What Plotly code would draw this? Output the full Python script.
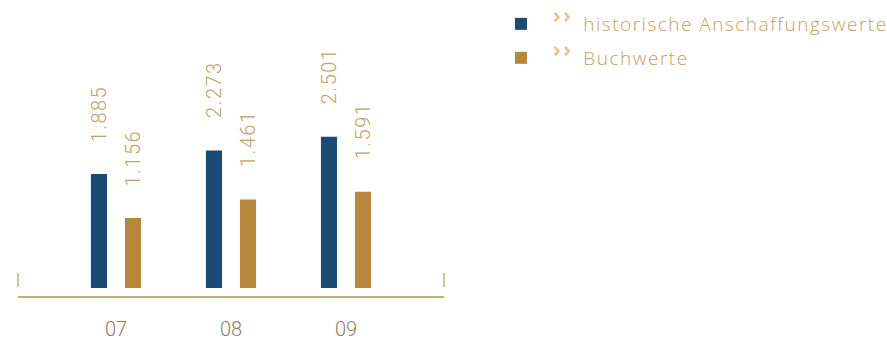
import plotly.graph_objects as go

# Jahre und Werte (Mio. EUR)
jahre = ["07", "08", "09"]
anschaffungswerte = [1.885, 2.273, 2.501]
buchwerte = [1.156, 1.461, 1.591]
serien = ["historische Anschaffungswerte", "Buchwerte"]

BLAU = "#1b4a72"
GOLD = "#b6873d"
TEXT_GOLD = "#c4a069"
PFEIL_GOLD = "#e6c68a"
ACHSE = "#c9ab74"
JAHR_FARBE = "#8f7b5f"
FONT = "Roboto"

def fmt(v):
    return f"{v:.3f}"

def legend_name(txt):
    return (f"<sup><span style='color:{PFEIL_GOLD};font-size:21px;font-weight:700;"
            f"letter-spacing:2.5px'>››</span></sup>"
            f"\u00a0\u00a0<span style='letter-spacing:1.5px'>{txt}</span>")

fig = go.Figure()
fig.add_trace(go.Bar(
    x=jahre, y=anschaffungswerte, name=legend_name(serien[0]),
    marker=dict(color=BLAU, line=dict(width=0)),
    width=0.14, offset=-0.218, legend="legend",
))
fig.add_trace(go.Bar(
    x=jahre, y=buchwerte, name=legend_name(serien[1]),
    marker=dict(color=GOLD, line=dict(width=0)),
    width=0.14, offset=0.078, legend="legend2",
))

# Werte über den Säulen, senkrecht gestellt
annos = []
for i, (a, b) in enumerate(zip(anschaffungswerte, buchwerte)):
    for val, dx in ((a, -17), (b, 17)):
        annos.append(dict(
            x=i, y=val, xref="x", yref="y",
            text=f"<span style='letter-spacing:1.5px'>{fmt(val)}</span>",
            textangle=-90, showarrow=False, xanchor="center", yanchor="bottom",
            xshift=dx, yshift=30,
            font=dict(family=FONT, size=20, color=TEXT_GOLD, weight=300),
        ))

# kleine Begrenzungsstriche links und rechts
shapes = []
for xd in (0, 1):
    shapes.append(dict(
        type="line", xref="x domain", x0=xd, x1=xd,
        yref="y", ysizemode="pixel", yanchor=0, y0=1, y1=15,
        line=dict(color=ACHSE, width=1.5),
    ))

leg_common = dict(
    xref="container", yref="container", xanchor="left", yanchor="middle",
    bgcolor="rgba(0,0,0,0)", borderwidth=0, itemwidth=54,
    font=dict(family="Open Sans", size=19, color=TEXT_GOLD, weight=300),
    itemclick=False, itemdoubleclick=False,
)

fig.update_layout(
    width=887, height=340,
    margin=dict(l=18, r=443, t=10, b=44, autoexpand=False),
    paper_bgcolor="white", plot_bgcolor="white",
    barmode="overlay",
    showlegend=True,
    legend=dict(x=489 / 887, y=1 - 24 / 340, **leg_common),
    legend2=dict(x=489 / 887, y=1 - 58 / 340, **leg_common),
    xaxis=dict(
        type="category", range=[-0.852, 2.852], automargin=False,
        showgrid=False, zeroline=False,
        showline=True, linecolor=ACHSE, linewidth=1.5,
        ticks="", ticklabelstandoff=14,
        tickfont=dict(family=FONT, size=20, color=JAHR_FARBE, weight=300),
    ),
    yaxis=dict(
        range=[-0.132, 4.595], visible=False, showgrid=False, zeroline=False,
        automargin=False,
    ),
    annotations=annos,
    shapes=shapes,
)

fig.write_html("out.html")
